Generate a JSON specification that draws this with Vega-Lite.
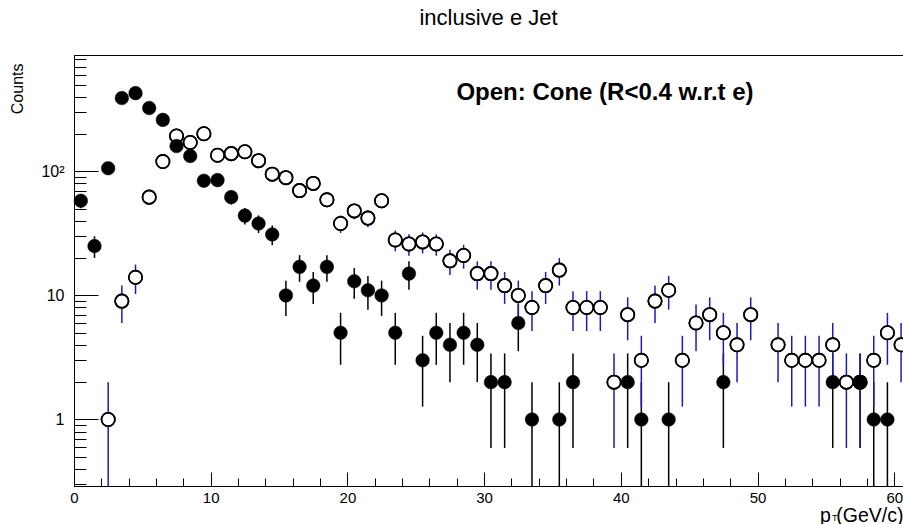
{
  "$schema": "https://vega.github.io/schema/vega-lite/v6.json",
  "width": 829,
  "height": 431,
  "autosize": {"type": "none"},
  "padding": {"left": 74, "top": 55, "right": 0, "bottom": 38},
  "background": "white",
  "config": {
    "view": {"stroke": "black", "strokeWidth": 1},
    "font": "Liberation Sans",
    "axis": {
      "labelOverlap": false,
      "labelFlush": false,
      "labelBound": false,
      "grid": false,
      "labelFont": "Liberation Sans",
      "labelColor": "black",
      "tickColor": "black",
      "tickWidth": 1,
      "domainColor": "black",
      "domainWidth": 1,
      "titleFont": "Liberation Sans",
      "titleFontWeight": "normal",
      "titleColor": "black"
    }
  },
  "title": {
    "text": "inclusive e Jet",
    "anchor": "middle",
    "frame": "group",
    "font": "Liberation Sans",
    "fontSize": 22,
    "fontWeight": "normal",
    "color": "black",
    "baseline": "alphabetic",
    "offset": 4
  },
  "datasets": {
    "filled": [
      {"x": 0.5, "n": 58, "lo": 50.38, "hi": 65.62},
      {"x": 1.5, "n": 25, "lo": 20, "hi": 30},
      {"x": 2.5, "n": 106, "lo": 95.7, "hi": 116.3},
      {"x": 3.5, "n": 390, "lo": 370.25, "hi": 409.75},
      {"x": 4.5, "n": 427, "lo": 406.34, "hi": 447.66},
      {"x": 5.5, "n": 324, "lo": 306, "hi": 342},
      {"x": 6.5, "n": 260, "lo": 243.88, "hi": 276.12},
      {"x": 7.5, "n": 160, "lo": 147.35, "hi": 172.65},
      {"x": 8.5, "n": 133, "lo": 121.47, "hi": 144.53},
      {"x": 9.5, "n": 84, "lo": 74.83, "hi": 93.17},
      {"x": 10.5, "n": 85, "lo": 75.78, "hi": 94.22},
      {"x": 11.5, "n": 62, "lo": 54.13, "hi": 69.87},
      {"x": 12.5, "n": 44, "lo": 37.37, "hi": 50.63},
      {"x": 13.5, "n": 38, "lo": 31.84, "hi": 44.16},
      {"x": 14.5, "n": 31, "lo": 25.43, "hi": 36.57},
      {"x": 15.5, "n": 10, "lo": 6.84, "hi": 13.16},
      {"x": 16.5, "n": 17, "lo": 12.88, "hi": 21.12},
      {"x": 17.5, "n": 12, "lo": 8.54, "hi": 15.46},
      {"x": 18.5, "n": 17, "lo": 12.88, "hi": 21.12},
      {"x": 19.5, "n": 5, "lo": 2.76, "hi": 7.24},
      {"x": 20.5, "n": 13, "lo": 9.39, "hi": 16.61},
      {"x": 21.5, "n": 11, "lo": 7.68, "hi": 14.32},
      {"x": 22.5, "n": 10, "lo": 6.84, "hi": 13.16},
      {"x": 23.5, "n": 5, "lo": 2.76, "hi": 7.24},
      {"x": 24.5, "n": 15, "lo": 11.13, "hi": 18.87},
      {"x": 25.5, "n": 3, "lo": 1.27, "hi": 4.73},
      {"x": 26.5, "n": 5, "lo": 2.76, "hi": 7.24},
      {"x": 27.5, "n": 4, "lo": 2, "hi": 6},
      {"x": 28.5, "n": 5, "lo": 2.76, "hi": 7.24},
      {"x": 29.5, "n": 4, "lo": 2, "hi": 6},
      {"x": 30.5, "n": 2, "lo": 0.59, "hi": 3.41},
      {"x": 31.5, "n": 2, "lo": 0.59, "hi": 3.41},
      {"x": 32.5, "n": 6, "lo": 3.55, "hi": 8.45},
      {"x": 33.5, "n": 1, "lo": 0.01, "hi": 2},
      {"x": 35.5, "n": 1, "lo": 0.01, "hi": 2},
      {"x": 36.5, "n": 2, "lo": 0.59, "hi": 3.41},
      {"x": 40.5, "n": 2, "lo": 0.59, "hi": 3.41},
      {"x": 41.5, "n": 1, "lo": 0.01, "hi": 2},
      {"x": 43.5, "n": 1, "lo": 0.01, "hi": 2},
      {"x": 47.5, "n": 2, "lo": 0.59, "hi": 3.41},
      {"x": 55.5, "n": 2, "lo": 0.59, "hi": 3.41},
      {"x": 57.5, "n": 2, "lo": 0.59, "hi": 3.41},
      {"x": 58.5, "n": 1, "lo": 0.01, "hi": 2},
      {"x": 59.5, "n": 1, "lo": 0.01, "hi": 2}
    ],
    "open": [
      {"x": 2.5, "n": 1, "lo": 0.01, "hi": 2},
      {"x": 3.5, "n": 9, "lo": 6, "hi": 12},
      {"x": 4.5, "n": 14, "lo": 10.26, "hi": 17.74},
      {"x": 5.5, "n": 62, "lo": 54.13, "hi": 69.87},
      {"x": 6.5, "n": 120, "lo": 109.05, "hi": 130.95},
      {"x": 7.5, "n": 193, "lo": 179.11, "hi": 206.89},
      {"x": 8.5, "n": 171, "lo": 157.92, "hi": 184.08},
      {"x": 9.5, "n": 201, "lo": 186.82, "hi": 215.18},
      {"x": 10.5, "n": 135, "lo": 123.38, "hi": 146.62},
      {"x": 11.5, "n": 139, "lo": 127.21, "hi": 150.79},
      {"x": 12.5, "n": 144, "lo": 132, "hi": 156},
      {"x": 13.5, "n": 122, "lo": 110.95, "hi": 133.05},
      {"x": 14.5, "n": 95, "lo": 85.25, "hi": 104.75},
      {"x": 15.5, "n": 89, "lo": 79.57, "hi": 98.43},
      {"x": 16.5, "n": 70, "lo": 61.63, "hi": 78.37},
      {"x": 17.5, "n": 80, "lo": 71.06, "hi": 88.94},
      {"x": 18.5, "n": 59, "lo": 51.32, "hi": 66.68},
      {"x": 19.5, "n": 38, "lo": 31.84, "hi": 44.16},
      {"x": 20.5, "n": 48, "lo": 41.07, "hi": 54.93},
      {"x": 21.5, "n": 42, "lo": 35.52, "hi": 48.48},
      {"x": 22.5, "n": 58, "lo": 50.38, "hi": 65.62},
      {"x": 23.5, "n": 28, "lo": 22.71, "hi": 33.29},
      {"x": 24.5, "n": 26, "lo": 20.9, "hi": 31.1},
      {"x": 25.5, "n": 27, "lo": 21.8, "hi": 32.2},
      {"x": 26.5, "n": 26, "lo": 20.9, "hi": 31.1},
      {"x": 27.5, "n": 19, "lo": 14.64, "hi": 23.36},
      {"x": 28.5, "n": 21, "lo": 16.42, "hi": 25.58},
      {"x": 29.5, "n": 15, "lo": 11.13, "hi": 18.87},
      {"x": 30.5, "n": 15, "lo": 11.13, "hi": 18.87},
      {"x": 31.5, "n": 12, "lo": 8.54, "hi": 15.46},
      {"x": 32.5, "n": 10, "lo": 6.84, "hi": 13.16},
      {"x": 33.5, "n": 8, "lo": 5.17, "hi": 10.83},
      {"x": 34.5, "n": 12, "lo": 8.54, "hi": 15.46},
      {"x": 35.5, "n": 16, "lo": 12, "hi": 20},
      {"x": 36.5, "n": 8, "lo": 5.17, "hi": 10.83},
      {"x": 37.5, "n": 8, "lo": 5.17, "hi": 10.83},
      {"x": 38.5, "n": 8, "lo": 5.17, "hi": 10.83},
      {"x": 39.5, "n": 2, "lo": 0.59, "hi": 3.41},
      {"x": 40.5, "n": 7, "lo": 4.35, "hi": 9.65},
      {"x": 41.5, "n": 3, "lo": 1.27, "hi": 4.73},
      {"x": 42.5, "n": 9, "lo": 6, "hi": 12},
      {"x": 43.5, "n": 11, "lo": 7.68, "hi": 14.32},
      {"x": 44.5, "n": 3, "lo": 1.27, "hi": 4.73},
      {"x": 45.5, "n": 6, "lo": 3.55, "hi": 8.45},
      {"x": 46.5, "n": 7, "lo": 4.35, "hi": 9.65},
      {"x": 47.5, "n": 5, "lo": 2.76, "hi": 7.24},
      {"x": 48.5, "n": 4, "lo": 2, "hi": 6},
      {"x": 49.5, "n": 7, "lo": 4.35, "hi": 9.65},
      {"x": 51.5, "n": 4, "lo": 2, "hi": 6},
      {"x": 52.5, "n": 3, "lo": 1.27, "hi": 4.73},
      {"x": 53.5, "n": 3, "lo": 1.27, "hi": 4.73},
      {"x": 54.5, "n": 3, "lo": 1.27, "hi": 4.73},
      {"x": 55.5, "n": 4, "lo": 2, "hi": 6},
      {"x": 56.5, "n": 2, "lo": 0.59, "hi": 3.41},
      {"x": 57.5, "n": 2, "lo": 0.59, "hi": 3.41},
      {"x": 58.5, "n": 3, "lo": 1.27, "hi": 4.73},
      {"x": 59.5, "n": 5, "lo": 2.76, "hi": 7.24},
      {"x": 60.5, "n": 4, "lo": 2, "hi": 6}
    ],
    "notes": [
      {"label": "Open: Cone (R<0.4 w.r.t e)", "kind": "note"},
      {"label": "T", "kind": "sub"}
    ]
  },
  "layer": [
    {
      "data": {"name": "filled"},
      "mark": {"type": "rule", "clip": true, "color": "black", "strokeWidth": 1.5},
      "encoding": {
        "x": {"field": "x", "type": "quantitative",
          "scale": {"type": "linear", "domain": [0, 60.64], "nice": false, "zero": false},
          "axis": {"title": "p (GeV/c)", "values": [0, 2, 4, 6, 8, 10, 12, 14, 16, 18, 20, 22, 24, 26, 28, 30, 32, 34, 36, 38, 40, 42, 44, 46, 48, 50, 52, 54, 56, 58, 60], "labelExpr": "datum.value % 10 == 0 ? datum.label : ''", "tickSize": {"condition": {"test": "datum.value % 10 == 0", "value": -14}, "value": -8}, "labelPadding": 18, "labelFontSize": 15, "labelOverlap": false, "titleFontSize": 19.5, "titleX": 829, "titleY": 35, "titleAlign": "right", "titleBaseline": "alphabetic"}},
        "y": {"field": "lo", "type": "quantitative",
          "scale": {"type": "log", "domain": [0.291, 867], "nice": false},
          "axis": {"title": "Counts", "values": [0.3, 0.4, 0.5, 0.6, 0.7, 0.8, 0.9, 1, 2, 3, 4, 5, 6, 7, 8, 9, 10, 20, 30, 40, 50, 60, 70, 80, 90, 100, 200, 300, 400, 500, 600, 700, 800], "labelExpr": "datum.value == 1 ? '1' : datum.value == 10 ? '10' : datum.value == 100 ? '10²' : ''", "tickSize": {"condition": {"test": "datum.value == 1 || datum.value == 10 || datum.value == 100", "value": -24}, "value": -12}, "labelPadding": 34, "labelFontSize": 16, "labelOverlap": false, "titleFontSize": 16, "titleAngle": -90, "titleX": -57, "titleY": 8, "titleAlign": "right", "titleBaseline": "middle"}},
        "y2": {"field": "hi"}
      }
    },
    {
      "data": {"name": "open"},
      "mark": {"type": "rule", "clip": true, "color": "#1c1cb4", "strokeWidth": 1.5},
      "encoding": {
        "x": {"field": "x", "type": "quantitative",
          "scale": {"type": "linear", "domain": [0, 60.64], "nice": false, "zero": false},
          "axis": {"title": "p (GeV/c)", "values": [0, 2, 4, 6, 8, 10, 12, 14, 16, 18, 20, 22, 24, 26, 28, 30, 32, 34, 36, 38, 40, 42, 44, 46, 48, 50, 52, 54, 56, 58, 60], "labelExpr": "datum.value % 10 == 0 ? datum.label : ''", "tickSize": {"condition": {"test": "datum.value % 10 == 0", "value": -14}, "value": -8}, "labelPadding": 18, "labelFontSize": 15, "labelOverlap": false, "titleFontSize": 19.5, "titleX": 829, "titleY": 35, "titleAlign": "right", "titleBaseline": "alphabetic"}},
        "y": {"field": "lo", "type": "quantitative",
          "scale": {"type": "log", "domain": [0.291, 867], "nice": false},
          "axis": {"title": "Counts", "values": [0.3, 0.4, 0.5, 0.6, 0.7, 0.8, 0.9, 1, 2, 3, 4, 5, 6, 7, 8, 9, 10, 20, 30, 40, 50, 60, 70, 80, 90, 100, 200, 300, 400, 500, 600, 700, 800], "labelExpr": "datum.value == 1 ? '1' : datum.value == 10 ? '10' : datum.value == 100 ? '10²' : ''", "tickSize": {"condition": {"test": "datum.value == 1 || datum.value == 10 || datum.value == 100", "value": -24}, "value": -12}, "labelPadding": 34, "labelFontSize": 16, "labelOverlap": false, "titleFontSize": 16, "titleAngle": -90, "titleX": -57, "titleY": 8, "titleAlign": "right", "titleBaseline": "middle"}},
        "y2": {"field": "hi"}
      }
    },
    {
      "data": {"name": "open"},
      "mark": {"type": "point", "shape": "circle", "filled": true, "fill": "white", "stroke": "black", "strokeWidth": 1.6, "size": 180, "opacity": 1},
      "encoding": {
        "x": {"field": "x", "type": "quantitative",
          "scale": {"type": "linear", "domain": [0, 60.64], "nice": false, "zero": false},
          "axis": {"title": "p (GeV/c)", "values": [0, 2, 4, 6, 8, 10, 12, 14, 16, 18, 20, 22, 24, 26, 28, 30, 32, 34, 36, 38, 40, 42, 44, 46, 48, 50, 52, 54, 56, 58, 60], "labelExpr": "datum.value % 10 == 0 ? datum.label : ''", "tickSize": {"condition": {"test": "datum.value % 10 == 0", "value": -14}, "value": -8}, "labelPadding": 18, "labelFontSize": 15, "labelOverlap": false, "titleFontSize": 19.5, "titleX": 829, "titleY": 35, "titleAlign": "right", "titleBaseline": "alphabetic"}},
        "y": {"field": "n", "type": "quantitative",
          "scale": {"type": "log", "domain": [0.291, 867], "nice": false},
          "axis": {"title": "Counts", "values": [0.3, 0.4, 0.5, 0.6, 0.7, 0.8, 0.9, 1, 2, 3, 4, 5, 6, 7, 8, 9, 10, 20, 30, 40, 50, 60, 70, 80, 90, 100, 200, 300, 400, 500, 600, 700, 800], "labelExpr": "datum.value == 1 ? '1' : datum.value == 10 ? '10' : datum.value == 100 ? '10²' : ''", "tickSize": {"condition": {"test": "datum.value == 1 || datum.value == 10 || datum.value == 100", "value": -24}, "value": -12}, "labelPadding": 34, "labelFontSize": 16, "labelOverlap": false, "titleFontSize": 16, "titleAngle": -90, "titleX": -57, "titleY": 8, "titleAlign": "right", "titleBaseline": "middle"}}
      }
    },
    {
      "data": {"name": "filled"},
      "mark": {"type": "point", "shape": "circle", "filled": true, "fill": "black", "stroke": "black", "strokeWidth": 0.5, "size": 185, "opacity": 1},
      "encoding": {
        "x": {"field": "x", "type": "quantitative",
          "scale": {"type": "linear", "domain": [0, 60.64], "nice": false, "zero": false},
          "axis": {"title": "p (GeV/c)", "values": [0, 2, 4, 6, 8, 10, 12, 14, 16, 18, 20, 22, 24, 26, 28, 30, 32, 34, 36, 38, 40, 42, 44, 46, 48, 50, 52, 54, 56, 58, 60], "labelExpr": "datum.value % 10 == 0 ? datum.label : ''", "tickSize": {"condition": {"test": "datum.value % 10 == 0", "value": -14}, "value": -8}, "labelPadding": 18, "labelFontSize": 15, "labelOverlap": false, "titleFontSize": 19.5, "titleX": 829, "titleY": 35, "titleAlign": "right", "titleBaseline": "alphabetic"}},
        "y": {"field": "n", "type": "quantitative",
          "scale": {"type": "log", "domain": [0.291, 867], "nice": false},
          "axis": {"title": "Counts", "values": [0.3, 0.4, 0.5, 0.6, 0.7, 0.8, 0.9, 1, 2, 3, 4, 5, 6, 7, 8, 9, 10, 20, 30, 40, 50, 60, 70, 80, 90, 100, 200, 300, 400, 500, 600, 700, 800], "labelExpr": "datum.value == 1 ? '1' : datum.value == 10 ? '10' : datum.value == 100 ? '10²' : ''", "tickSize": {"condition": {"test": "datum.value == 1 || datum.value == 10 || datum.value == 100", "value": -24}, "value": -12}, "labelPadding": 34, "labelFontSize": 16, "labelOverlap": false, "titleFontSize": 16, "titleAngle": -90, "titleX": -57, "titleY": 8, "titleAlign": "right", "titleBaseline": "middle"}}
      }
    },
    {
      "data": {"name": "open"},
      "mark": {"type": "point", "shape": "circle", "filled": false, "stroke": "black", "strokeWidth": 1.6, "size": 180, "opacity": 1},
      "encoding": {
        "x": {"field": "x", "type": "quantitative",
          "scale": {"type": "linear", "domain": [0, 60.64], "nice": false, "zero": false},
          "axis": {"title": "p (GeV/c)", "values": [0, 2, 4, 6, 8, 10, 12, 14, 16, 18, 20, 22, 24, 26, 28, 30, 32, 34, 36, 38, 40, 42, 44, 46, 48, 50, 52, 54, 56, 58, 60], "labelExpr": "datum.value % 10 == 0 ? datum.label : ''", "tickSize": {"condition": {"test": "datum.value % 10 == 0", "value": -14}, "value": -8}, "labelPadding": 18, "labelFontSize": 15, "labelOverlap": false, "titleFontSize": 19.5, "titleX": 829, "titleY": 35, "titleAlign": "right", "titleBaseline": "alphabetic"}},
        "y": {"field": "n", "type": "quantitative",
          "scale": {"type": "log", "domain": [0.291, 867], "nice": false},
          "axis": {"title": "Counts", "values": [0.3, 0.4, 0.5, 0.6, 0.7, 0.8, 0.9, 1, 2, 3, 4, 5, 6, 7, 8, 9, 10, 20, 30, 40, 50, 60, 70, 80, 90, 100, 200, 300, 400, 500, 600, 700, 800], "labelExpr": "datum.value == 1 ? '1' : datum.value == 10 ? '10' : datum.value == 100 ? '10²' : ''", "tickSize": {"condition": {"test": "datum.value == 1 || datum.value == 10 || datum.value == 100", "value": -24}, "value": -12}, "labelPadding": 34, "labelFontSize": 16, "labelOverlap": false, "titleFontSize": 16, "titleAngle": -90, "titleX": -57, "titleY": 8, "titleAlign": "right", "titleBaseline": "middle"}}
      }
    },
    {
      "data": {"name": "notes"},
      "transform": [{"filter": "datum.kind == 'note'"}],
      "mark": {"type": "text", "font": "Liberation Sans", "fontSize": 24, "fontWeight": "bold", "fill": "black", "align": "center", "baseline": "alphabetic"},
      "encoding": {
        "x": {"datum": 38.84, "type": "quantitative",
          "scale": {"type": "linear", "domain": [0, 60.64], "nice": false, "zero": false},
          "axis": {"title": "p (GeV/c)", "values": [0, 2, 4, 6, 8, 10, 12, 14, 16, 18, 20, 22, 24, 26, 28, 30, 32, 34, 36, 38, 40, 42, 44, 46, 48, 50, 52, 54, 56, 58, 60], "labelExpr": "datum.value % 10 == 0 ? datum.label : ''", "tickSize": {"condition": {"test": "datum.value % 10 == 0", "value": -14}, "value": -8}, "labelPadding": 18, "labelFontSize": 15, "labelOverlap": false, "titleFontSize": 19.5, "titleX": 829, "titleY": 35, "titleAlign": "right", "titleBaseline": "alphabetic"}},
        "y": {"datum": 376, "type": "quantitative",
          "scale": {"type": "log", "domain": [0.291, 867], "nice": false},
          "axis": {"title": "Counts", "values": [0.3, 0.4, 0.5, 0.6, 0.7, 0.8, 0.9, 1, 2, 3, 4, 5, 6, 7, 8, 9, 10, 20, 30, 40, 50, 60, 70, 80, 90, 100, 200, 300, 400, 500, 600, 700, 800], "labelExpr": "datum.value == 1 ? '1' : datum.value == 10 ? '10' : datum.value == 100 ? '10²' : ''", "tickSize": {"condition": {"test": "datum.value == 1 || datum.value == 10 || datum.value == 100", "value": -24}, "value": -12}, "labelPadding": 34, "labelFontSize": 16, "labelOverlap": false, "titleFontSize": 16, "titleAngle": -90, "titleX": -57, "titleY": 8, "titleAlign": "right", "titleBaseline": "middle"}},
        "text": {"field": "label", "type": "nominal"}
      }
    },
    {
      "data": {"name": "notes"},
      "transform": [{"filter": "datum.kind == 'sub'"}],
      "mark": {"type": "text", "font": "Liberation Sans", "fontSize": 9, "fill": "black", "align": "center", "baseline": "alphabetic"},
      "encoding": {
        "x": {"datum": 55.65, "type": "quantitative",
          "scale": {"type": "linear", "domain": [0, 60.64], "nice": false, "zero": false},
          "axis": {"title": "p (GeV/c)", "values": [0, 2, 4, 6, 8, 10, 12, 14, 16, 18, 20, 22, 24, 26, 28, 30, 32, 34, 36, 38, 40, 42, 44, 46, 48, 50, 52, 54, 56, 58, 60], "labelExpr": "datum.value % 10 == 0 ? datum.label : ''", "tickSize": {"condition": {"test": "datum.value % 10 == 0", "value": -14}, "value": -8}, "labelPadding": 18, "labelFontSize": 15, "labelOverlap": false, "titleFontSize": 19.5, "titleX": 829, "titleY": 35, "titleAlign": "right", "titleBaseline": "alphabetic"}},
        "y": {"datum": 0.153, "type": "quantitative",
          "scale": {"type": "log", "domain": [0.291, 867], "nice": false},
          "axis": {"title": "Counts", "values": [0.3, 0.4, 0.5, 0.6, 0.7, 0.8, 0.9, 1, 2, 3, 4, 5, 6, 7, 8, 9, 10, 20, 30, 40, 50, 60, 70, 80, 90, 100, 200, 300, 400, 500, 600, 700, 800], "labelExpr": "datum.value == 1 ? '1' : datum.value == 10 ? '10' : datum.value == 100 ? '10²' : ''", "tickSize": {"condition": {"test": "datum.value == 1 || datum.value == 10 || datum.value == 100", "value": -24}, "value": -12}, "labelPadding": 34, "labelFontSize": 16, "labelOverlap": false, "titleFontSize": 16, "titleAngle": -90, "titleX": -57, "titleY": 8, "titleAlign": "right", "titleBaseline": "middle"}},
        "text": {"field": "label", "type": "nominal"}
      }
    }
  ]
}
